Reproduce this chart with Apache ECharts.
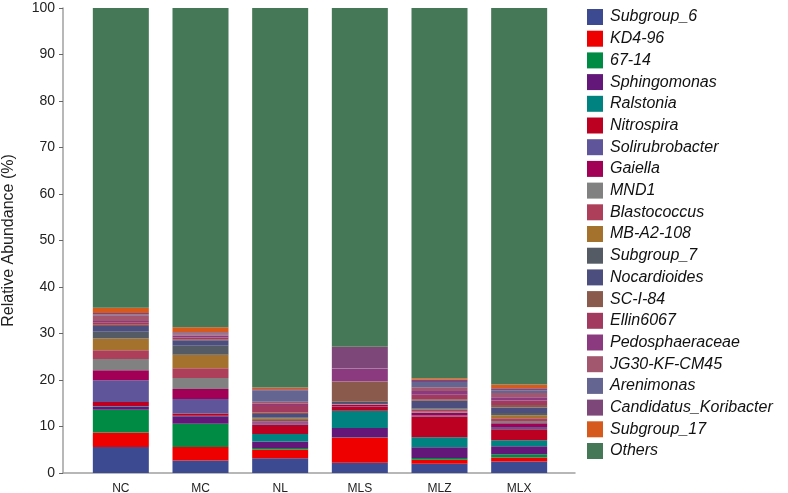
<!DOCTYPE html>
<html>
<head>
<meta charset="utf-8">
<script src="https://cdn.jsdelivr.net/npm/echarts@6/dist/echarts.min.js"></script>
<style>
  html, body { margin: 0; padding: 0; background: #fff; }
  #chart { width: 788px; height: 493px; }
</style>
</head>
<body>
<div id="chart"></div>
<script>
// samples on the x axis
const samples = ["NC", "MC", "NL", "MLS", "MLZ", "MLX"];

// genera, bottom of the stack first
const genera = [
  "Subgroup_6", "KD4-96", "67-14", "Sphingomonas", "Ralstonia", "Nitrospira",
  "Solirubrobacter", "Gaiella", "MND1", "Blastococcus", "MB-A2-108", "Subgroup_7",
  "Nocardioides", "SC-I-84", "Ellin6067", "Pedosphaeraceae", "JG30-KF-CM45",
  "Arenimonas", "Candidatus_Koribacter", "Subgroup_17", "Others"
];

// relative abundance (%) per sample, same order as genera
const NC  = [5.6, 3.1, 4.9, 0.7, 0.1, 0.85, 4.7, 2.15, 2.4, 1.9, 2.5, 1.5, 1.2, 0.3, 0.5, 0.3, 1.2, 0.2, 0.3, 1.15, 64.45];
const MC  = [2.7, 2.9, 5.0, 1.6, 0.1, 0.5, 3.1, 2.15, 2.4, 2.1, 2.9, 1.9, 1.2, 0.2, 0.4, 0.4, 0.3, 0.2, 0.2, 1.1, 68.65];
const NL  = [3.15, 1.9, 0.3, 1.4, 1.65, 2.0, 0.3, 0.2, 0.3, 0.2, 0.3, 0.3, 0.7, 0.3, 1.6, 0.3, 0.4, 2.5, 0.2, 0.4, 81.6];
const MLS = [2.2, 5.4, 0.05, 2.05, 3.7, 0.8, 0.1, 0.3, 0.1, 0.1, 0.05, 0.2, 0.25, 4.4, 0.05, 2.75, 0.05, 0.05, 4.5, 0.05, 72.85];
const MLZ = [2.0, 0.85, 0.35, 2.35, 2.15, 4.45, 0.2, 0.6, 0.2, 0.4, 0.1, 0.2, 1.7, 0.3, 1.0, 0.8, 0.8, 1.1, 0.5, 0.3, 79.65];
const MLX = [2.5, 0.85, 0.7, 1.7, 1.3, 2.35, 0.5, 0.8, 0.5, 0.6, 0.6, 0.5, 1.2, 0.5, 1.0, 0.7, 0.9, 0.6, 0.4, 0.85, 80.95];

const yTicks = [0, 10, 20, 30, 40, 50, 60, 70, 80, 90, 100];

const colors = [
  "#3c4a92", "#ee0000", "#008b45", "#631879", "#008280", "#bb0021",
  "#5f559b", "#a20056", "#808180", "#ad3f5a", "#a4722c", "#545b65",
  "#4c4f7e", "#8a5a4c", "#a13a5e", "#8c3a80", "#a3576f", "#646590",
  "#7d4779", "#d65a1c", "#457857"
];

const bySample = [NC, MC, NL, MLS, MLZ, MLX];

const chart = echarts.init(document.getElementById("chart"));

const series = genera.map(function (name, g) {
  return {
    name: name,
    type: "bar",
    stack: "total",
    barWidth: 56,
    itemStyle: { color: colors[g] },
    data: bySample.map(function (vals) { return vals[g]; })
  };
});

const axisColor = "#a0a0a0";

const options = {
  animation: false,
  textStyle: { fontFamily: "Liberation Sans, Arial, sans-serif" },
  grid: [
    { left: 81, right: 229, top: 8, bottom: 20, outerBoundsMode: "none" },
    // wider frame only for the longer x axis line
    { left: 63, right: 213, top: 8, bottom: 20, outerBoundsMode: "none" }
  ],
  legend: {
    orient: "vertical",
    left: 582,
    top: 4,
    itemWidth: 16,
    itemHeight: 16,
    itemGap: 5.7,
    icon: "rect",
    data: genera,
    textStyle: {
      fontSize: 16,
      fontStyle: "italic",
      color: "#111",
      lineHeight: 16,
      padding: [0, 0, 0, 2]
    }
  },
  xAxis: [
    {
      type: "category",
      gridIndex: 0,
      data: samples,
      axisLine: { show: false },
      axisTick: { show: false },
      axisLabel: { fontSize: 12, color: "#222", margin: 10 }
    },
    {
      type: "value",
      gridIndex: 1,
      min: 0,
      max: 1,
      splitLine: { show: false },
      axisLine: { show: true, lineStyle: { color: axisColor, width: 1.5 } },
      axisTick: { show: false },
      axisLabel: { show: false }
    }
  ],
  yAxis: [
    {
      type: "value",
      gridIndex: 0,
      min: yTicks[0],
      max: yTicks[yTicks.length - 1],
      interval: 10,
      offset: 18,
      name: "Relative Abundance (%)",
      nameLocation: "middle",
      nameGap: 46,
      nameTextStyle: { fontSize: 16, color: "#222" },
      splitLine: { show: false },
      axisLine: { show: true, lineStyle: { color: axisColor, width: 1.5 } },
      axisTick: { show: true, length: 4, lineStyle: { color: "#666" } },
      axisLabel: { fontSize: 14, color: "#222", margin: 8 }
    },
    {
      type: "value",
      gridIndex: 1,
      min: 0,
      max: 1,
      show: false
    }
  ],
  series: series
};

chart.setOption(options);
</script>
</body>
</html>
